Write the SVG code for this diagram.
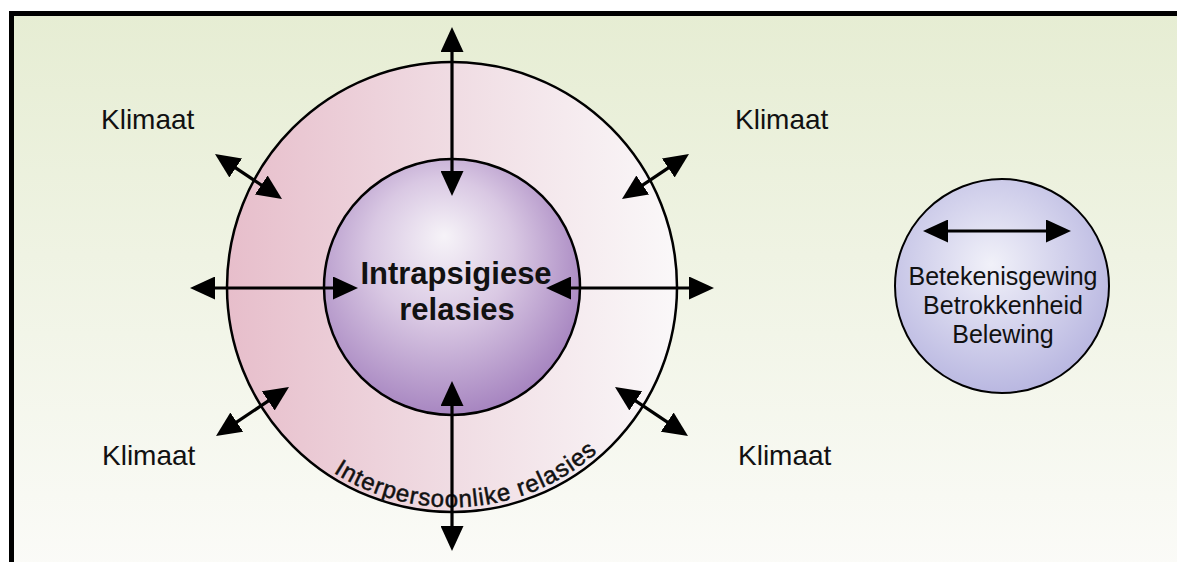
<svg xmlns="http://www.w3.org/2000/svg" width="1177" height="562" viewBox="0 0 1177 562">
  <defs>
    <linearGradient id="bg" x1="0" y1="0" x2="0" y2="1">
      <stop offset="0" stop-color="#e6edd3"/>
      <stop offset="1" stop-color="#fbfbf8"/>
    </linearGradient>
    <linearGradient id="ring" x1="0" y1="0" x2="1" y2="0">
      <stop offset="0" stop-color="#e7becb"/>
      <stop offset="0.5" stop-color="#f0dce3"/>
      <stop offset="1" stop-color="#faf8f9"/>
    </linearGradient>
    <radialGradient id="core" cx="0.45" cy="0.42" r="0.62" fx="0.47" fy="0.3">
      <stop offset="0" stop-color="#f6f3f8"/>
      <stop offset="0.45" stop-color="#d9c8e3"/>
      <stop offset="1" stop-color="#a27fbd"/>
    </radialGradient>
    <radialGradient id="side" cx="0.45" cy="0.4" r="0.65">
      <stop offset="0" stop-color="#f1f1f9"/>
      <stop offset="1" stop-color="#b5b3df"/>
    </radialGradient>
    <marker id="ah" viewBox="0 0 25 23" refX="15" refY="11.5" markerWidth="25" markerHeight="23" markerUnits="userSpaceOnUse" orient="auto-start-reverse">
      <path d="M0,0 L25,11.5 L0,23 z" fill="#000"/>
    </marker>
    <path id="arcText" d="M235.3,325.2 A220,220 0 0 0 668.7,325.2"/>
  </defs>
  <style>
    .lbl { font-family: "Liberation Sans", Arial, sans-serif; fill: #111111; }
    .klim { font-size: 28px; }
    .conn line { stroke: #000; stroke-width: 3.2; marker-start: url(#ah); marker-end: url(#ah); }
    .edge { stroke: #000; stroke-width: 2.5; }
  </style>

  <rect x="0" y="0" width="1177" height="562" fill="#ffffff"/>
  <rect x="11.5" y="13.5" width="1170" height="560" fill="url(#bg)"/>
  <path d="M11.5,562 V13.5 H1177" fill="none" stroke="#000" stroke-width="5"/>

  <g id="interpersoonlike">
    <circle cx="452" cy="287" r="225" fill="url(#ring)" class="edge"/>
  </g>
  <g id="intrapsigiese">
    <circle cx="452" cy="287" r="128" fill="url(#core)" class="edge"/>
    <text class="lbl" x="456" y="284" font-size="31" font-weight="bold" text-anchor="middle">Intrapsigiese</text>
    <text class="lbl" x="457" y="320" font-size="31" font-weight="bold" text-anchor="middle">relasies</text>
  </g>
  <g id="ring-label">
    <text class="lbl" font-size="24" letter-spacing="1" stroke="#111111" stroke-width="0.5"><textPath href="#arcText" startOffset="52.8%" text-anchor="middle">Interpersoonlike relasies</textPath></text>
  </g>

  <g id="klimaat-tl"><text class="lbl klim" x="101" y="129">Klimaat</text></g>
  <g id="klimaat-tr"><text class="lbl klim" x="735" y="129">Klimaat</text></g>
  <g id="klimaat-bl"><text class="lbl klim" x="102" y="465">Klimaat</text></g>
  <g id="klimaat-br"><text class="lbl klim" x="738" y="465">Klimaat</text></g>

  <g id="legend">
    <circle cx="1002" cy="286" r="107" fill="url(#side)" stroke="#000" stroke-width="2"/>
    <text class="lbl" x="1003" y="285" font-size="25" text-anchor="middle">Betekenisgewing</text>
    <text class="lbl" x="1003" y="314" font-size="25" text-anchor="middle">Betrokkenheid</text>
    <text class="lbl" x="1003" y="343" font-size="25" text-anchor="middle">Belewing</text>
  </g>

  <g id="connectors" class="conn">
    <line x1="452" y1="37" x2="452" y2="186"/>
    <line x1="452" y1="391" x2="452" y2="541"/>
    <line x1="200" y1="288" x2="348" y2="288"/>
    <line x1="556" y1="288" x2="704" y2="288"/>
    <line x1="223.3" y1="159.6" x2="273.7" y2="193.4"/>
    <line x1="680.7" y1="159.6" x2="630.3" y2="193.4"/>
    <line x1="224.3" y1="430.4" x2="280.7" y2="392.6"/>
    <line x1="679.7" y1="430.4" x2="623.3" y2="392.6"/>
    <line x1="933" y1="231" x2="1061" y2="231"/>
  </g>
</svg>
